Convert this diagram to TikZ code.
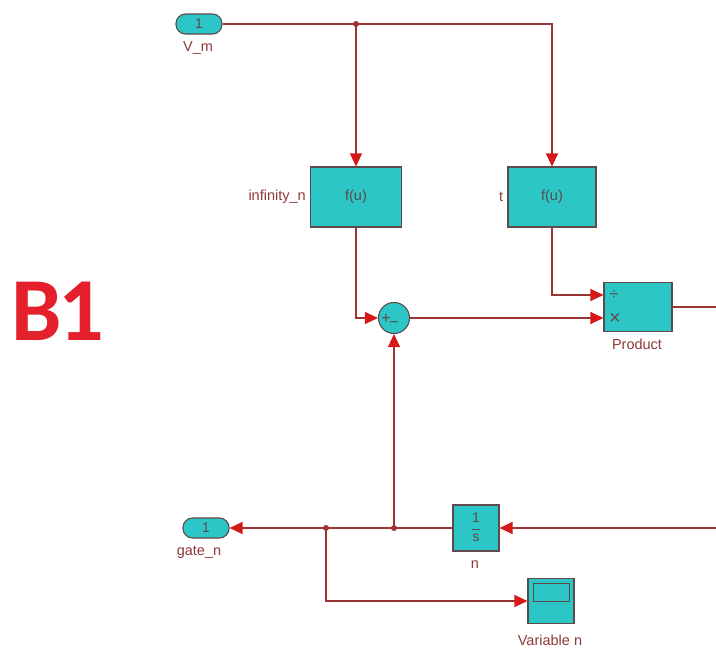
\documentclass[tikz,border=0pt]{standalone}
\usepackage{fontspec}
\setmainfont{Liberation Sans}
\newfontfamily\bigfont{Carlito}
\usetikzlibrary{arrows.meta,calc}
\definecolor{wirered}{HTML}{9B3535}
\definecolor{tipred}{HTML}{D51818}
\definecolor{cyanfill}{HTML}{2CC6C6}
\definecolor{edge}{HTML}{5E4A4A}
\definecolor{lblred}{HTML}{8E3A3A}
\definecolor{bigred}{HTML}{E3202B}

\begin{document}
\begin{tikzpicture}[x=1pt,y=-1pt,font=\fontsize{14.5}{16}\selectfont,
  blk/.style={draw=edge,fill=cyanfill,line width=1.1pt,inner sep=0pt,text=edge},
  port/.style={blk,minimum width=46pt,minimum height=20pt,rounded corners=9.5pt,font=\fontsize{14}{14}\selectfont},
  lbl/.style={text=lblred,inner sep=1pt},
  sign/.style={inner sep=0pt,text=edge,font=\fontsize{16}{16}\selectfont},
  wire/.style={draw=wirered,line width=1.2pt},
  sig/.style={wire,-{Triangle[length=13pt,width=12pt,color=tipred]}}]
  \useasboundingbox (0,0) rectangle (716,648);
  \node[font=\bigfont\fontsize{90}{90}\selectfont\bfseries,text=bigred,inner sep=0pt] (title) at (58,311) {B\kern-4pt 1};

  % ports
  \node[port] (vm) at (199,24) {1};
  \node[lbl] (vmlbl) at ($(vm.south)+(-1,13)$) {V\_m};
  \node[port] (gate) at (206,528) {1};
  \node[lbl] (gatelbl) at ($(gate.south)+(-7,14)$) {gate\_n};

  % blocks
  \node[blk,minimum width=91pt,minimum height=60pt] (finf) at (356,197) {f(u)};
  \node[lbl,anchor=east] (finflbl) at ($(finf.west)+(-3,0)$) {infinity\_n};
  \node[blk,minimum width=88pt,minimum height=60pt] (ftau) at (552,197) {f(u)};
  \node[lbl,anchor=east] (ftaulbl) at ($(ftau.west)+(-3,0)$) {t};
  \node[blk,circle,minimum size=31pt] (sum) at (394,318) {};
  \node[sign] (plus) at ($(sum.center)+(-8,1)$) {+};
  \node[sign] (minus) at ($(sum.center)+(0,7)$) {−};
  \node[blk,minimum width=68pt,minimum height=49pt] (prod) at (638,307) {};
  \node[sign] (dv) at (614,295) {÷};
  \node[sign,font=\fontsize{20}{20}\selectfont] (mul) at (615,319) {×};
  \node[lbl] (prodlbl) at ($(prod.south)+(-1,12)$) {Product};
  \node[blk,minimum size=46pt] (integ) at (476,528) {};
  \node[sign,font=\fontsize{14}{14}\selectfont] (num) at ($(integ.center)+(0,-10)$) {1};
  \node[sign,font=\fontsize{14}{14}\selectfont] (den) at ($(integ.center)+(0,10)$) {s};
  \draw[edge,line width=0.8pt] ($(integ.center)+(-4,1)$) -- ($(integ.center)+(4,1)$);
  \node[lbl] (integlbl) at ($(integ.south)+(-1,13)$) {n};
  \node[blk,minimum width=46pt,minimum height=45pt] (scope) at (551,601) {};
  \draw[edge,line width=1pt] ($(scope.north west)+(6,6)$) rectangle ($(scope.north east)+(-5,24)$);
  \node[lbl] (scopelbl) at ($(scope.south)+(-1,16)$) {Variable n};

  % branch points and free ends
  \coordinate (dvm) at (vm.east -| finf.north);
  \coordinate (dsum) at (integ.west -| sum.south);
  \coordinate (dscope) at (326,528);
  \coordinate (pin1) at ($(prod.west)+(0,-12)$);
  \coordinate (pin2) at ($(prod.west)+(0,11)$);
  \coordinate (pout) at ($(prod.east)+(44,0)$);
  \coordinate (vin) at ($(integ.east)+(217,0)$);

  % wires
  \draw[sig] (vm.east) -| (ftau.north);
  \draw[sig] (dvm) -- (finf.north);
  \draw[sig] (finf.south) |- (sum.west);
  \draw[sig] (ftau.south) |- (pin1);
  \draw[sig] (sum.east) -- (pin2);
  \draw[wire] (prod.east) -- (pout);
  \draw[sig] (vin) -- (integ.east);
  \draw[sig] (integ.west) -- (gate.east);
  \draw[sig] (dsum) -- (sum.south);
  \draw[sig] (dscope) |- (scope.west);
  \fill[wirered] (dvm) circle (3pt) (dsum) circle (3pt) (dscope) circle (3pt);
\end{tikzpicture}
\end{document}
